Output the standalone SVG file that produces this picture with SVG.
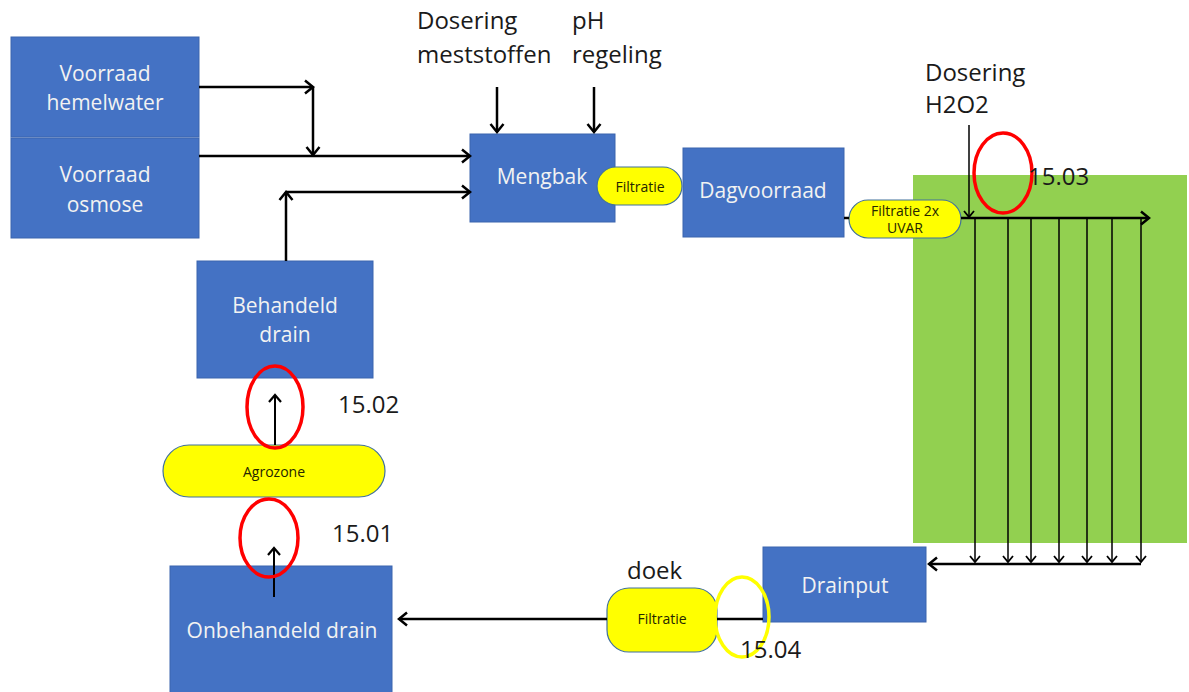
<svg xmlns="http://www.w3.org/2000/svg" width="1189" height="692" viewBox="0 0 1189 692">
<style>
.box{fill:#4472C4;stroke:#3A64AE;stroke-width:1}
.pill{fill:#FFFF00;stroke:#41719C;stroke-width:1.2}
.wt{font-family:"Open Sans","Noto Sans",sans-serif;font-size:21px;fill:#F2F2F2;text-anchor:middle}
.bt{font-family:"Open Sans","Noto Sans",sans-serif;font-size:24px;fill:#1a1a1a}
.pt{font-family:"Open Sans","Noto Sans",sans-serif;font-size:14px;fill:#262600;text-anchor:middle}
.c{fill:none;stroke:#000;stroke-width:2.5}
.m{fill:none;stroke:#000;stroke-width:2}
.t{fill:none;stroke:#000;stroke-width:1.5}
.red{fill:none;stroke:#FF0000;stroke-width:3.5}
.yel{fill:none;stroke:#FFFF00;stroke-width:3.5}
</style>
<defs>
<marker id="a" markerUnits="userSpaceOnUse" markerWidth="20" markerHeight="20" refX="10" refY="10" orient="auto">
<path d="M2,3.5 L10,10 L2,16.5" fill="none" stroke="#000" stroke-width="2.5"/>
</marker>
<marker id="s" markerUnits="userSpaceOnUse" markerWidth="16" markerHeight="16" refX="8" refY="8" orient="auto">
<path d="M2,3 L8,8 L2,13" fill="none" stroke="#000" stroke-width="1.8"/>
</marker>
<marker id="m" markerUnits="userSpaceOnUse" markerWidth="18" markerHeight="18" refX="9" refY="9" orient="auto">
<path d="M2,3 L9,9 L2,15" fill="none" stroke="#000" stroke-width="2.2"/>
</marker>
</defs>
<rect id="kas" x="913" y="175" width="274" height="368" fill="#92D050"/>
<g id="voorraad-hemelwater"><rect class="box" x="11" y="37" width="188" height="100"/><text class="wt" x="105" y="81">Voorraad</text><text class="wt" x="105" y="110">hemelwater</text></g>
<g id="voorraad-osmose"><rect class="box" x="11" y="138" width="188" height="100"/><text class="wt" x="105" y="182">Voorraad</text><text class="wt" x="105" y="212">osmose</text></g>
<g id="mengbak"><rect class="box" x="470" y="134" width="145" height="88"/><text class="wt" x="542" y="184">Mengbak</text></g>
<g id="filtratie1"><rect class="pill" x="597" y="167" width="85" height="38" rx="19"/><text class="pt" x="640" y="192">Filtratie</text></g>
<g id="dagvoorraad"><rect class="box" x="683" y="148" width="161" height="89"/><text class="wt" x="763" y="198">Dagvoorraad</text></g>
<g id="filtratie2"><rect class="pill" x="849" y="200" width="112" height="38" rx="19"/><text class="pt" x="905" y="216">Filtratie 2x</text><text class="pt" x="905" y="233">UVAR</text></g>
<g id="behandeld-drain"><rect class="box" x="197" y="261" width="176" height="117"/><text class="wt" x="285" y="313">Behandeld</text><text class="wt" x="285" y="342">drain</text></g>
<g id="agrozone"><rect class="pill" x="163" y="445" width="222" height="52" rx="26"/><text class="pt" x="274" y="477">Agrozone</text></g>
<g id="onbehandeld-drain"><rect class="box" x="170" y="566" width="222" height="130"/><text class="wt" x="282" y="638">Onbehandeld drain</text></g>
<g id="filtratie3"><rect class="pill" x="607" y="588" width="110" height="64" rx="22"/><text class="pt" x="662" y="624">Filtratie</text></g>
<g id="drainput"><rect class="box" x="763" y="547" width="163" height="75"/><text class="wt" x="845" y="593">Drainput</text></g>
<g id="connectors">
<path class="c" d="M199,87 H313" marker-end="url(#a)"/>
<path class="c" d="M313,87 V155" marker-end="url(#a)"/>
<path class="c" d="M199,156 H470" marker-end="url(#a)"/>
<path class="c" d="M286,261 V192" marker-end="url(#a)"/>
<path class="c" d="M286,192 H470" marker-end="url(#a)"/>
<path class="c" d="M497,87 V132" marker-end="url(#a)"/>
<path class="c" d="M594,87 V132" marker-end="url(#a)"/>
<path class="c" d="M844,218 H849"/>
<path class="t" d="M969,125 V217" marker-end="url(#s)"/>
<path class="c" d="M961,218 H1149" marker-end="url(#a)"/>
<path class="t" d="M975,218 V562" marker-end="url(#s)"/>
<path class="t" d="M1008,218 V562" marker-end="url(#s)"/>
<path class="t" d="M1031,218 V562" marker-end="url(#s)"/>
<path class="t" d="M1059,218 V562" marker-end="url(#s)"/>
<path class="t" d="M1087,218 V562" marker-end="url(#s)"/>
<path class="t" d="M1112,218 V562" marker-end="url(#s)"/>
<path class="t" d="M1141,218 V562" marker-end="url(#s)"/>
<path class="c" d="M1141,564 H929" marker-end="url(#a)"/>
<path class="c" d="M763,619 H717"/>
<path class="c" d="M607,619 H399" marker-end="url(#a)"/>
<path class="m" d="M274,597 V548" marker-end="url(#m)"/>
<path class="m" d="M275,445 V395" marker-end="url(#m)"/>
</g>
<g id="markers-circles">
<ellipse class="red" cx="1003" cy="173" rx="29" ry="40"/>
<ellipse class="red" cx="275" cy="407" rx="28" ry="41"/>
<ellipse class="red" cx="269" cy="538" rx="29" ry="39"/>
<ellipse class="yel" cx="742" cy="617" rx="27" ry="40"/>
</g>
<g id="labels">
<text class="bt" x="417" y="29">Dosering</text>
<text class="bt" x="417" y="63">meststoffen</text>
<text class="bt" x="572" y="29">pH</text>
<text class="bt" x="572" y="63">regeling</text>
<text class="bt" x="925" y="81">Dosering</text>
<text class="bt" x="925" y="113">H2O2</text>
<text class="bt" x="1028" y="185">15.03</text>
<text class="bt" x="338" y="413">15.02</text>
<text class="bt" x="332" y="542">15.01</text>
<text class="bt" x="740" y="658">15.04</text>
<text class="bt" x="627" y="579">doek</text>
</g>
</svg>
